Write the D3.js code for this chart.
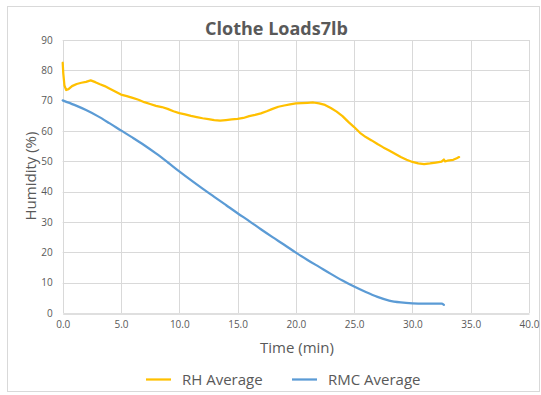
<!DOCTYPE html>
<html>
<head>
<meta charset="utf-8">
<script src="https://cdn.jsdelivr.net/npm/d3@7"></script>
<style>
  html, body { margin: 0; padding: 0; background: #fff; }
  svg { display: block; font-family: "Open Sans", "Liberation Sans", sans-serif; }
</style>
</head>
<body>
<svg id="chart" width="541" height="395"></svg>
<script>
// Drying run, 7 lb clothes load: sensor averages over time
const rhTime = [0.0, 0.05, 0.15, 0.3, 0.5, 0.8, 1.2, 1.6, 2.0, 2.4, 2.8, 3.2, 3.6, 4.0, 4.5, 5.0, 5.5, 6.0, 6.5, 7.0, 7.5, 8.0, 8.5, 9.0, 9.5, 10.0, 10.5, 11.0, 11.5, 12.0, 12.5, 13.0, 13.5, 14.0, 14.5, 15.0, 15.5, 16.0, 16.5, 17.0, 17.5, 18.0, 18.5, 19.0, 19.5, 20.0, 20.5, 21.0, 21.5, 22.0, 22.5, 23.0, 23.5, 24.0, 24.5, 25.0, 25.5, 26.0, 26.5, 27.0, 27.5, 28.0, 28.5, 29.0, 29.5, 30.0, 30.5, 31.0, 31.5, 32.0, 32.5, 32.7, 32.8, 33.0, 33.5, 33.8, 34.0];
const rhAverage = [82.5, 79.0, 75.0, 73.5, 73.8, 74.8, 75.5, 75.9, 76.2, 76.7, 76.1, 75.4, 74.8, 74.0, 73.0, 72.0, 71.5, 70.9, 70.3, 69.5, 68.9, 68.3, 67.9, 67.3, 66.5, 65.9, 65.5, 65.0, 64.6, 64.2, 63.9, 63.6, 63.4, 63.6, 63.8, 64.0, 64.3, 64.9, 65.3, 65.8, 66.5, 67.3, 68.0, 68.4, 68.8, 69.1, 69.2, 69.3, 69.4, 69.1, 68.6, 67.6, 66.4, 64.9, 63.0, 61.3, 59.4, 58.0, 56.9, 55.7, 54.6, 53.6, 52.5, 51.4, 50.5, 49.8, 49.3, 49.1, 49.3, 49.6, 49.9, 50.6, 50.0, 50.2, 50.5, 51.0, 51.4];

const rmcTime = [0, 1, 2, 3, 4, 5, 6, 7, 8, 9, 10, 11, 12, 13, 14, 15, 16, 17, 18, 19, 20, 21, 22, 23, 24, 25, 26, 27, 28, 29, 30, 31, 32, 32.5, 32.7];
const rmcAverage = [70.1, 68.6, 66.9, 64.9, 62.6, 60.2, 57.8, 55.3, 52.6, 49.7, 46.7, 43.8, 41.0, 38.3, 35.6, 32.9, 30.3, 27.6, 25.0, 22.5, 19.9, 17.5, 15.2, 12.9, 10.7, 8.7, 6.9, 5.3, 4.1, 3.5, 3.2, 3.1, 3.1, 3.1, 2.7];

const xTicks = [0, 5, 10, 15, 20, 25, 30, 35, 40];
const yTicks = [0, 10, 20, 30, 40, 50, 60, 70, 80, 90];

const seriesNames = ["RH Average", "RMC Average"];
const seriesColors = ["#FFC000", "#5B9BD5"];

const svg = d3.select("#chart");
const W = 541, H = 395;
const plot = { left: 62.7, right: 529, top: 40, bottom: 313 };

// outer chart frame
svg.append("rect")
  .attr("x", 7.5).attr("y", 6.5)
  .attr("width", W - 9).attr("height", H - 10)
  .attr("fill", "#fff").attr("stroke", "#d9d9d9").attr("stroke-width", 1);

const x = d3.scaleLinear().domain([0, 40]).range([plot.left, plot.right]);
const y = d3.scaleLinear().domain([0, 90]).range([plot.bottom, plot.top]);

// gridlines
const grid = svg.append("g");
grid.selectAll("line.h").data(yTicks.filter(d => d > 0)).join("line")
  .attr("x1", plot.left).attr("x2", plot.right)
  .attr("y1", d => Math.round(y(d)) + 0.5).attr("y2", d => Math.round(y(d)) + 0.5)
  .attr("stroke", "#d9d9d9").attr("stroke-width", 1);
grid.selectAll("line.v").data(xTicks).join("line")
  .attr("x1", d => Math.round(x(d)) + 0.5).attr("x2", d => Math.round(x(d)) + 0.5)
  .attr("y1", plot.top).attr("y2", plot.bottom)
  .attr("stroke", "#d9d9d9").attr("stroke-width", 1);

// x axis
const xAxis = svg.append("g")
  .attr("transform", `translate(0,${Math.round(plot.bottom) + 0.5})`)
  .call(d3.axisBottom(x).tickValues(xTicks).tickFormat(d3.format(".1f")).tickSize(0).tickPadding(7));
xAxis.select(".domain").attr("stroke", "#bfbfbf");
xAxis.selectAll("text").attr("fill", "#595959").attr("font-size", 10)
  .attr("font-family", "'Open Sans', sans-serif");

// y axis
const yAxis = svg.append("g")
  .attr("transform", `translate(${plot.left},0)`)
  .call(d3.axisLeft(y).tickValues(yTicks).tickSize(0).tickPadding(10));
yAxis.select(".domain").remove();
yAxis.selectAll("text").attr("fill", "#595959").attr("font-size", 10)
  .attr("font-family", "'Open Sans', sans-serif");

// series lines
const line = d3.line().x(d => x(d[0])).y(d => y(d[1]));
const rhPoints = rhTime.map((t, i) => [t, rhAverage[i]]);
const rmcPoints = rmcTime.map((t, i) => [t, rmcAverage[i]]);

svg.append("path").datum(rmcPoints)
  .attr("d", line.curve(d3.curveMonotoneX))
  .attr("fill", "none").attr("stroke", seriesColors[1]).attr("stroke-width", 2.25)
  .attr("stroke-linejoin", "round").attr("stroke-linecap", "round");
svg.append("path").datum(rhPoints)
  .attr("d", line.curve(d3.curveLinear))
  .attr("fill", "none").attr("stroke", seriesColors[0]).attr("stroke-width", 2.25)
  .attr("stroke-linejoin", "round").attr("stroke-linecap", "round");

// title
svg.append("text")
  .attr("x", 276.5).attr("y", 35)
  .attr("text-anchor", "middle")
  .attr("font-size", 18).attr("font-weight", "bold").attr("fill", "#595959")
  .text("Clothe Loads7lb");

// axis titles
svg.append("text")
  .attr("x", 297).attr("y", 353)
  .attr("text-anchor", "middle")
  .attr("font-size", 15).attr("fill", "#595959")
  .text("Time (min)");
svg.append("text")
  .attr("transform", "translate(36,176) rotate(-90)")
  .attr("text-anchor", "middle")
  .attr("font-size", 15).attr("fill", "#595959")
  .text("Humidity (%)");

// legend
const legendItems = [
  { name: seriesNames[0], color: seriesColors[0], x0: 146 },
  { name: seriesNames[1], color: seriesColors[1], x0: 292 }
];
const legend = svg.append("g");
legendItems.forEach(it => {
  legend.append("line")
    .attr("x1", it.x0).attr("x2", it.x0 + 25)
    .attr("y1", 379.5).attr("y2", 379.5)
    .attr("stroke", it.color).attr("stroke-width", 2.25);
  legend.append("text")
    .attr("x", it.x0 + 36).attr("y", 385)
    .attr("font-size", 15).attr("fill", "#595959")
    .text(it.name);
});
</script>
</body>
</html>
